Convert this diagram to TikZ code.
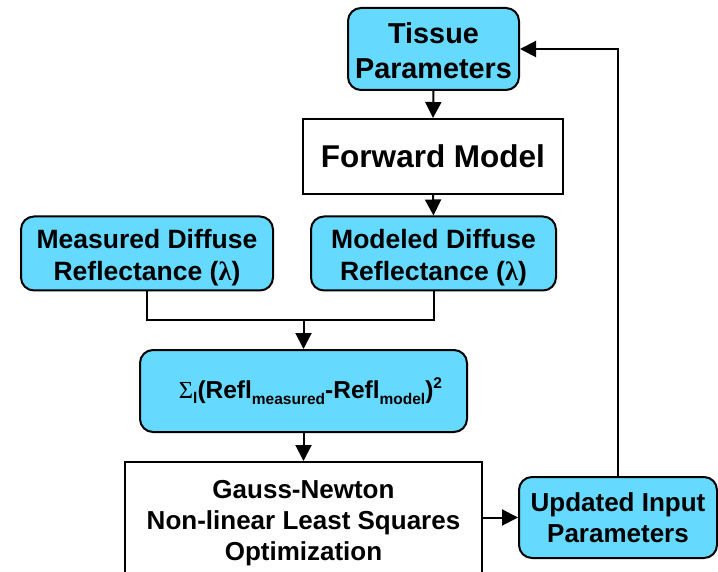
\documentclass[tikz,border=0pt]{standalone}
\usepackage{fontspec}
\setmainfont{Liberation Sans}
\newfontfamily\symfont{Liberation Serif}
\usetikzlibrary{arrows.meta}
\definecolor{boxblue}{HTML}{66D9FF}
\tikzset{
  base/.style={draw=black, line width=2pt, align=center, inner sep=0pt,
    font=\bfseries, anchor=center},
  bluebox/.style={base, fill=boxblue, rounded corners=13pt},
  whitebox/.style={base, fill=white},
  flow/.style={line width=2pt, -{Triangle[length=16pt,width=16pt]}},
  joinline/.style={line width=2pt}
}
\newcommand{\fsz}[2]{\fontsize{#1}{#2}\selectfont}
% invisible strut that pushes the first text line down a little
\newcommand{\topgap}[1]{\rule{0pt}{#1}}
\begin{document}
\begin{tikzpicture}[x=1pt,y=-1pt]
\useasboundingbox (0,0) rectangle (718,572);
\clip (0,0) rectangle (718,572);

\node[bluebox, minimum width=171pt, minimum height=82pt,
  font=\bfseries\fsz{28.8}{35}] (tissue) at (433.5,49) {\topgap{25pt}Tissue\\Parameters};
\node[whitebox, minimum width=260pt, minimum height=75pt,
  font=\bfseries\fsz{31.5}{36}] (fwd) at (433,156.5) {Forward Model};
\node[bluebox, minimum width=252pt, minimum height=74pt,
  font=\bfseries\fsz{26.5}{32}] (meas) at (147,253.5) {\topgap{28pt}Measured Diffuse\\Reflectance ({\symfont λ})};
\node[bluebox, minimum width=245pt, minimum height=74pt,
  font=\bfseries\fsz{26.5}{32}] (mod) at (433.5,253.5) {\topgap{28pt}Modeled Diffuse\\Reflectance ({\symfont λ})};
\node[bluebox, minimum width=327pt, minimum height=82pt,
  font=\bfseries\fsz{24.5}{31}] (sum) at (303.5,391)
  {\hspace*{14pt}{\symfont\mdseries Σ}\raisebox{-5pt}{\fsz{15.5}{16}l}(Refl\raisebox{-6pt}{\fsz{15.5}{16}measured}-Refl\raisebox{-6pt}{\fsz{15.5}{16}model})\raisebox{10pt}{\fsz{15.5}{16}2}};
\node[whitebox, minimum width=357pt, minimum height=116pt,
  font=\bfseries\fsz{26}{31}] (gauss) at (303.5,520)
  {\topgap{24pt}Gauss-Newton\\Non-linear Least Squares\\Optimization};
\node[bluebox, minimum width=198pt, minimum height=81pt,
  font=\bfseries\fsz{26}{31.5}] (upd) at (618,517.5) {Updated Input\\Parameters};

\coordinate (j) at (303.5,320);

\draw[flow] (tissue.south) -- (fwd.north);
\draw[flow] (fwd.south) -- (mod.north);
\draw[joinline] (meas.south) |- (j) -| (mod.south);
\draw[flow] (j) -- (sum.north);
\draw[flow] (sum.south) -- (gauss.north);
\draw[flow] (gauss.east |- upd.west) -- (upd.west);
\draw[flow] (upd.north) |- (tissue.east);
\end{tikzpicture}
\end{document}
